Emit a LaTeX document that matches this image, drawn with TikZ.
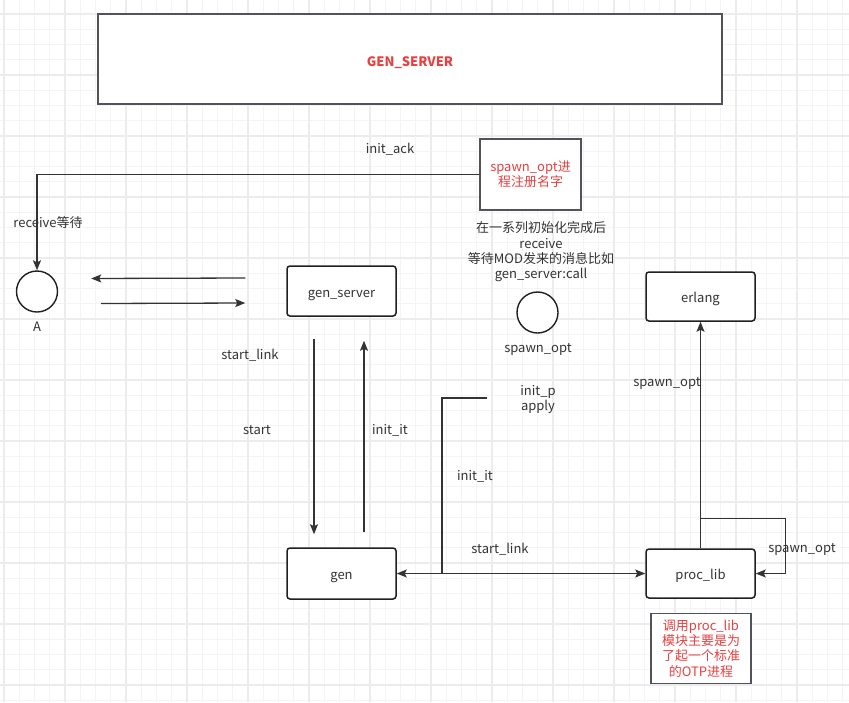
\documentclass[tikz,border=0pt]{standalone}
\usepackage{fontspec}
\setmainfont{Noto Sans CJK SC}
\usepackage{tikz}
\usetikzlibrary{arrows.meta,positioning}
\definecolor{lnred}{RGB}{232, 64, 64}
\definecolor{lngray}{RGB}{80, 84, 90}
\definecolor{lndark}{RGB}{30, 32, 36}
\definecolor{lntext}{RGB}{51, 51, 51}
\definecolor{gridmin}{RGB}{244, 244, 244}
\definecolor{gridmaj}{RGB}{236, 236, 236}
\tikzset{
  txt/.style={font=\fontsize{13}{15.3}\selectfont, text=lntext, align=center, inner sep=0pt},
  procbox/.style={draw=lndark, line width=1.5pt, rounded corners=3pt, fill=white, minimum width=109pt, minimum height=50pt, txt, text height=12pt, text depth=0pt},
  sqbox/.style={draw=lngray, line width=1.6pt, fill=white, txt, text=lnred},
  proc/.style={circle, draw=lndark, line width=1.4pt, fill=white, minimum size=41pt, inner sep=0pt},
  conn/.style={draw=lntext, line width=1.3pt, -{Stealth[length=10pt,width=8pt,inset=2pt]}},
  bothconn/.style={draw=lntext, line width=1.3pt, {Stealth[length=10pt,width=8pt,inset=2pt]}-{Stealth[length=10pt,width=8pt,inset=2pt]}},
  wire/.style={draw=lntext, line width=1.3pt}
}
\begin{document}
\begin{tikzpicture}[x=1pt, y=-1pt]
    \useasboundingbox (0,0) rectangle (849,702);
    \fill[white] (0,0) rectangle (849,702);
    \foreach \i in {0,...,55} \draw[gridmin, line width=1pt] ({4+15.25*\i},0) -- ({4+15.25*\i},702);
    \foreach \j in {0,...,45} \draw[gridmin, line width=1pt] (0,{14+15.25*\j}) -- (849,{14+15.25*\j});
    \foreach \i in {0,...,13} \draw[gridmaj, line width=1.3pt] ({4+61*\i},0) -- ({4+61*\i},702);
    \foreach \j in {0,...,11} \draw[gridmaj, line width=1.3pt] (0,{14+61*\j}) -- (849,{14+61*\j});

    \node[sqbox, minimum width=624pt, minimum height=90pt, text height=15.4pt, text depth=0pt, font=\fontsize{13}{15.3}\selectfont\bfseries] (title) at (410,59) {GEN\_SERVER};
    \node[sqbox, minimum width=101pt, minimum height=71pt] (reg) at (530.5,174.5) {spawn\_opt进\\程注册名字};
    \node[proc] (cA) at (37,291.5) {};
    \node[txt] (lblA) at (37,327) {A};
    \node[procbox] (gs) at (341.5,291) {gen\_server};
    \node[txt] (hint) at (541,252) {在一系列初始化完成后\\receive\\等待MOD发来的消息比如\\gen\_server:call};
    \node[proc] (csp) at (537.5,312.5) {};
    \node[txt] (lblsp) at (538,349) {spawn\_opt};
    \node[procbox, minimum height=49pt] (erl) at (700.5,296.5) {erlang};
    \node[procbox, minimum height=51pt] (gen) at (341.5,573.5) {gen};
    \node[procbox, minimum height=49pt] (plib) at (700.5,573.5) {proc\_lib};
    \node[sqbox, minimum width=100pt, minimum height=70pt] (note) at (701,648.5) {调用proc\_lib\\模块主要是为\\了起一个标准\\的OTP进程};
    \node[txt] (initp) at (538,399.5) {init\_p\\apply};

    \coordinate (ipend) at (487,398);
    \coordinate (junc) at (442,573.5);

    \draw[conn] (reg.west) -| (cA.north);
    \draw[conn] ([shift={(-41,-13)}]gs.west) -- ([shift={(33,-13)}]cA.east);
    \draw[conn] ([shift={(43,12)}]cA.east) -- ([shift={(-41,12)}]gs.west);
    \draw[conn, shorten <=22pt, shorten >=13pt] ([xshift=-27.5pt]gs.south) -- ([xshift=-27.5pt]gen.north);
    \draw[conn, shorten <=15pt, shorten >=24pt] ([xshift=22.5pt]gen.north) -- ([xshift=22.5pt]gs.south);
    \draw[bothconn] (gen.east) -- (plib.west);
    \draw[wire] (ipend) -| (junc);
    \draw[conn] (plib.north) -- (erl.south);
    \draw[conn] ([yshift=30pt]plib.north) -| ([xshift=30pt]plib.east) -- (plib.east);

    \node[txt] (lbl1) at (390,149) {init\_ack};
    \node[txt] (lbl2) at (48,223) {receive等待};
    \node[txt] (lbl3) at (250,355) {start\_link};
    \node[txt] (lbl4) at (257,430) {start};
    \node[txt] (lbl5) at (390,430) {init\_it};
    \node[txt] (lbl6) at (475,476) {init\_it};
    \node[txt] (lbl7) at (500,549) {start\_link};
    \node[txt] (lbl8) at (667,383) {spawn\_opt};
    \node[txt] (lbl9) at (802,549) {spawn\_opt};
\end{tikzpicture}
\end{document}
